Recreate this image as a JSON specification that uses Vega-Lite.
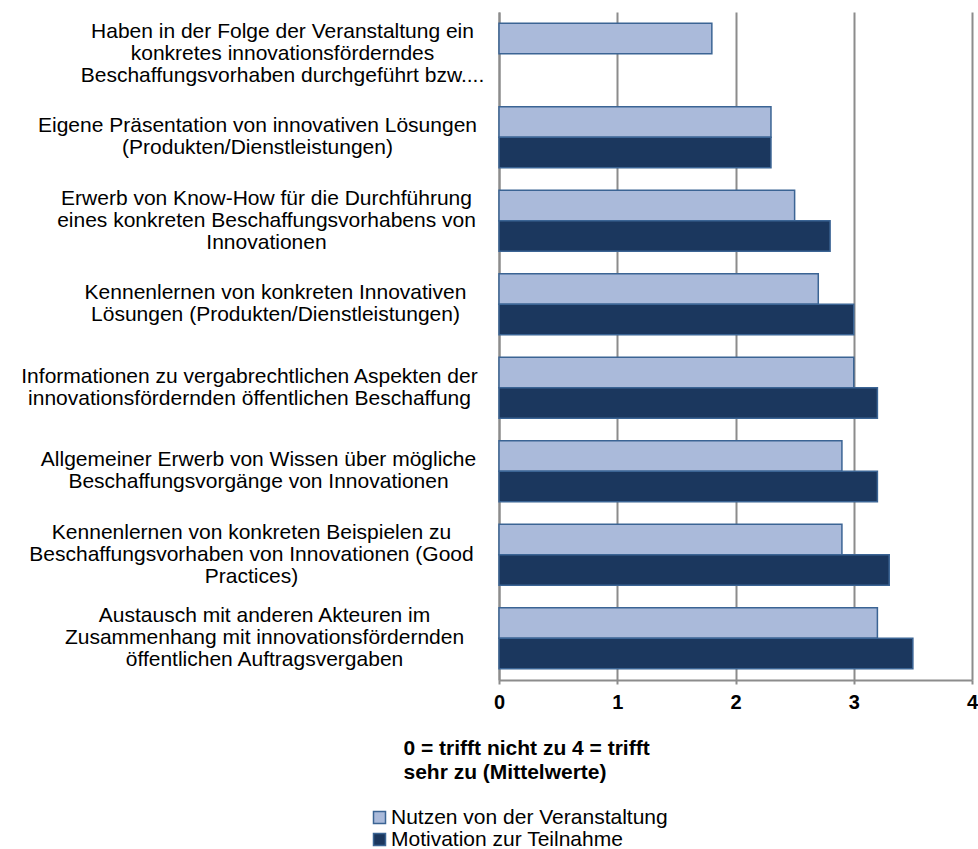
{
  "$schema": "https://vega.github.io/schema/vega-lite/v6.json",
  "width": 473,
  "height": 668,
  "autosize": "none",
  "padding": {"left": 499, "top": 12, "right": 6, "bottom": 169},
  "background": "white",
  "config": {"view": {"stroke": null}, "font": "Liberation Sans"},
  "data": {
    "values": [
      {"item": "Haben in der Folge der Veranstaltung ein|konkretes innovationsförderndes|Beschaffungsvorhaben durchgeführt bzw....", "series": "Nutzen von der Veranstaltung", "value": 1.8},
      {"item": "Eigene Präsentation von innovativen Lösungen|(Produkten/Dienstleistungen)", "series": "Nutzen von der Veranstaltung", "value": 2.3},
      {"item": "Eigene Präsentation von innovativen Lösungen|(Produkten/Dienstleistungen)", "series": "Motivation zur Teilnahme", "value": 2.3},
      {"item": "Erwerb von Know-How für die Durchführung|eines konkreten Beschaffungsvorhabens von|Innovationen", "series": "Nutzen von der Veranstaltung", "value": 2.5},
      {"item": "Erwerb von Know-How für die Durchführung|eines konkreten Beschaffungsvorhabens von|Innovationen", "series": "Motivation zur Teilnahme", "value": 2.8},
      {"item": "Kennenlernen von konkreten Innovativen|Lösungen (Produkten/Dienstleistungen)", "series": "Nutzen von der Veranstaltung", "value": 2.7},
      {"item": "Kennenlernen von konkreten Innovativen|Lösungen (Produkten/Dienstleistungen)", "series": "Motivation zur Teilnahme", "value": 3.0},
      {"item": "Informationen zu vergabrechtlichen Aspekten der|innovationsfördernden öffentlichen Beschaffung", "series": "Nutzen von der Veranstaltung", "value": 3.0},
      {"item": "Informationen zu vergabrechtlichen Aspekten der|innovationsfördernden öffentlichen Beschaffung", "series": "Motivation zur Teilnahme", "value": 3.2},
      {"item": "Allgemeiner Erwerb von Wissen über mögliche|Beschaffungsvorgänge von Innovationen", "series": "Nutzen von der Veranstaltung", "value": 2.9},
      {"item": "Allgemeiner Erwerb von Wissen über mögliche|Beschaffungsvorgänge von Innovationen", "series": "Motivation zur Teilnahme", "value": 3.2},
      {"item": "Kennenlernen von konkreten Beispielen zu|Beschaffungsvorhaben von Innovationen (Good|Practices)", "series": "Nutzen von der Veranstaltung", "value": 2.9},
      {"item": "Kennenlernen von konkreten Beispielen zu|Beschaffungsvorhaben von Innovationen (Good|Practices)", "series": "Motivation zur Teilnahme", "value": 3.3},
      {"item": "Austausch mit anderen Akteuren im|Zusammenhang mit innovationsfördernden|öffentlichen Auftragsvergaben", "series": "Nutzen von der Veranstaltung", "value": 3.2},
      {"item": "Austausch mit anderen Akteuren im|Zusammenhang mit innovationsfördernden|öffentlichen Auftragsvergaben", "series": "Motivation zur Teilnahme", "value": 3.5}
    ]
  },
  "mark": {"type": "bar", "stroke": "#3B6494", "strokeWidth": 1.5},
  "encoding": {
    "y": {
      "field": "item",
      "type": "nominal",
      "sort": null,
      "scale": {"paddingInner": 0.27, "paddingOuter": 0.135},
      "axis": {
        "title": null,
        "labelExpr": "split(datum.label, '|')",
        "labelAlign": "center",
        "labelBaseline": "middle",
        "labelPadding": {
          "condition": [
            {"test": "indexof(datum.value, 'Haben') == 0", "value": 217},
            {"test": "indexof(datum.value, 'Eigene') == 0", "value": 242},
            {"test": "indexof(datum.value, 'Know-How') >= 0", "value": 233},
            {"test": "indexof(datum.value, 'Innovativen') >= 0", "value": 224},
            {"test": "indexof(datum.value, 'vergabrechtlichen') >= 0", "value": 250},
            {"test": "indexof(datum.value, 'Allgemeiner') == 0", "value": 241},
            {"test": "indexof(datum.value, 'Beispielen') >= 0", "value": 248}
          ],
          "value": 235
        },
        "labelOffset": {
          "condition": {"test": "length(split(datum.value, '|')) == 3", "value": -22},
          "value": -11
        },
        "labelFont": "Liberation Sans",
        "labelFontSize": 21,
        "labelLineHeight": 22,
        "labelColor": "black",
        "labelLimit": 0,
        "ticks": false,
        "domainColor": "#8C8C8C",
        "domainWidth": 2
      }
    },
    "yOffset": {
      "field": "series",
      "type": "nominal",
      "sort": ["Nutzen von der Veranstaltung", "Motivation zur Teilnahme"],
      "scale": {"paddingInner": 0, "paddingOuter": 0}
    },
    "x": {
      "field": "value",
      "type": "quantitative",
      "scale": {"domain": [0, 4], "nice": false},
      "axis": {
        "values": [0, 1, 2, 3, 4],
        "grid": true,
        "gridColor": "#8C8C8C",
        "gridWidth": 2,
        "domainColor": "#8C8C8C",
        "domainWidth": 2,
        "tickColor": "#8C8C8C",
        "tickWidth": 2,
        "tickSize": 4,
        "labelFlush": false,
        "labelFont": "Liberation Sans",
        "labelFontWeight": "bold",
        "labelFontSize": 20,
        "labelColor": "black",
        "labelPadding": 8,
        "title": ["0 = trifft nicht zu 4 = trifft", "sehr zu (Mittelwerte)"],
        "titleFont": "Liberation Sans",
        "titleFontSize": 21,
        "titleFontWeight": "bold",
        "titleColor": "black",
        "titleAlign": "left",
        "titleAnchor": "start",
        "titleBaseline": "top",
        "titleX": -96,
        "titleY": 57,
        "titleLineHeight": 24
      }
    },
    "color": {
      "field": "series",
      "type": "nominal",
      "scale": {
        "domain": ["Nutzen von der Veranstaltung", "Motivation zur Teilnahme"],
        "range": ["#AABADA", "#1B375E"]
      },
      "legend": {
        "orient": "none",
        "legendX": -130,
        "legendY": 795,
        "direction": "vertical",
        "title": null,
        "padding": 0,
        "labelFont": "Liberation Sans",
        "labelFontSize": 21,
        "labelColor": "black",
        "labelLimit": 0,
        "labelOffset": 1,
        "symbolType": "square",
        "symbolSize": 144,
        "symbolStrokeColor": "#3B6494",
        "symbolStrokeWidth": 1.5,
        "rowPadding": 0
      }
    }
  }
}
